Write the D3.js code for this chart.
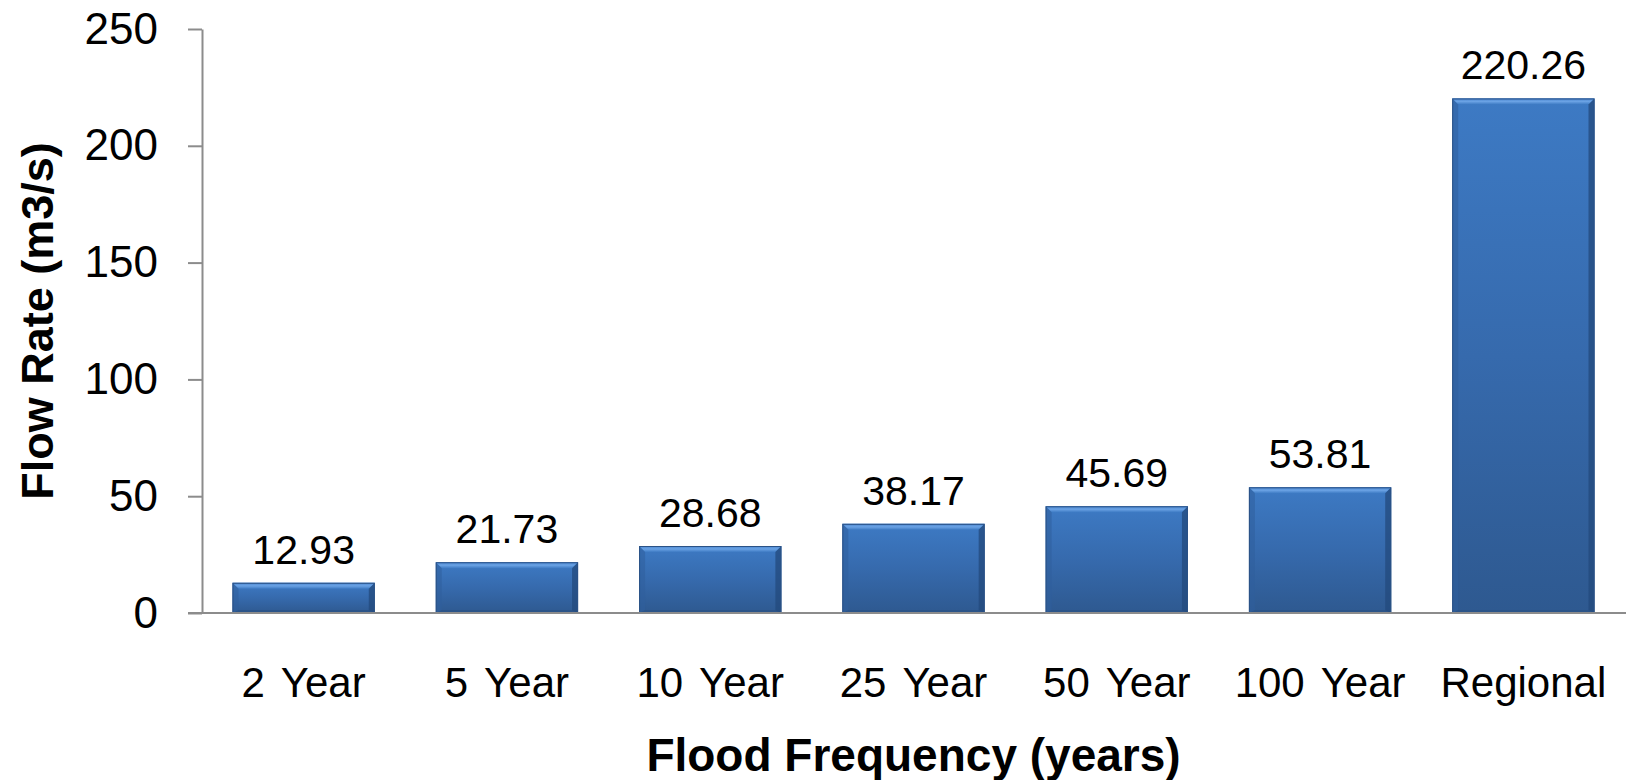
<!DOCTYPE html>
<html>
<head>
<meta charset="utf-8">
<script src="https://cdn.jsdelivr.net/npm/d3@7"></script>
<style>
  html, body { margin: 0; padding: 0; background: #fff; }
  svg { display: block; }
  text { font-family: "Liberation Sans", Arial, Helvetica, sans-serif; fill: #000; }
</style>
</head>
<body>
<svg id="chart" width="1627" height="780"></svg>
<script>
const categories = ["2 Year", "5 Year", "10 Year", "25 Year", "50 Year", "100 Year", "Regional"];
const values = [12.93, 21.73, 28.68, 38.17, 45.69, 53.81, 220.26];
const yTicks = [0, 50, 100, 150, 200, 250];
const xTitle = "Flood Frequency (years)";
const yTitle = "Flow Rate (m3/s)";

const W = 1627, H = 780;
const plot = { left: 202, right: 1625, top: 29, bottom: 613 };
const svg = d3.select("#chart");

const x = d3.scaleBand().domain(categories).range([plot.left, plot.right])
  .paddingInner(0.3).paddingOuter(0.15);
const y = d3.scaleLinear().domain([0, 250]).range([plot.bottom, plot.top]);

const defs = svg.append("defs");
const g1 = defs.append("linearGradient").attr("id", "barGrad")
  .attr("x1", 0).attr("y1", 0).attr("x2", 0).attr("y2", 1);
g1.append("stop").attr("offset", "0%").attr("stop-color", "#3d7ac4");
g1.append("stop").attr("offset", "50%").attr("stop-color", "#366aad");
g1.append("stop").attr("offset", "100%").attr("stop-color", "#2e5990");
const g2 = defs.append("linearGradient").attr("id", "topGrad")
  .attr("x1", 0).attr("y1", 0).attr("x2", 0).attr("y2", 1);
g2.append("stop").attr("offset", "0%").attr("stop-color", "#4a86d0");
g2.append("stop").attr("offset", "50%").attr("stop-color", "#6aa2e4");
g2.append("stop").attr("offset", "100%").attr("stop-color", "#3e7bc4");

const gridColor = "#8c8c8c";

// y axis
const yAxis = d3.axisLeft(y).tickValues(yTicks).tickSize(14).tickSizeOuter(0).tickPadding(30);
const ya = svg.append("g").attr("transform", `translate(${plot.left},0)`).call(yAxis);
ya.select(".domain").attr("stroke", gridColor).attr("stroke-width", 2);
ya.selectAll(".tick line").attr("stroke", gridColor).attr("stroke-width", 2);
ya.selectAll(".tick text").attr("font-size", 44).attr("fill", "#000")
  .style("font-family", '"Liberation Sans", Arial, Helvetica, sans-serif');

// bars
const bev = 6;
const bars = svg.append("g").selectAll("g.bar").data(values).join("g").attr("class", "bar");
bars.append("rect")
  .attr("x", (d, i) => x(categories[i]))
  .attr("y", d => y(d))
  .attr("width", x.bandwidth())
  .attr("height", d => y(0) - y(d))
  .attr("fill", "url(#barGrad)");
// top bevel
bars.append("polygon")
  .attr("points", (d, i) => {
    const x0 = x(categories[i]), x1 = x0 + x.bandwidth(), t = y(d);
    return [[x0, t], [x1, t], [x1 - bev, t + bev], [x0 + bev, t + bev]].join(" ");
  })
  .attr("fill", "url(#topGrad)");
// left bevel
bars.append("polygon")
  .attr("points", (d, i) => {
    const x0 = x(categories[i]), t = y(d), b = y(0);
    return [[x0, t], [x0 + bev, t + bev], [x0 + bev, b - 2], [x0, b]].join(" ");
  })
  .attr("fill", "#2f5f9c").attr("opacity", 0.55);
// right bevel
bars.append("polygon")
  .attr("points", (d, i) => {
    const x1 = x(categories[i]) + x.bandwidth(), t = y(d), b = y(0);
    return [[x1, t], [x1 - bev, t + bev], [x1 - bev, b - 2], [x1, b]].join(" ");
  })
  .attr("fill", "#234a7c").attr("opacity", 0.75);
// bottom bevel
bars.append("polygon")
  .attr("points", (d, i) => {
    const x0 = x(categories[i]), x1 = x0 + x.bandwidth(), b = y(0);
    return [[x0, b], [x1, b], [x1 - bev, b - 3], [x0 + bev, b - 3]].join(" ");
  })
  .attr("fill", "#2a5387").attr("opacity", 0.8);
bars.append("rect")
  .attr("x", (d, i) => x(categories[i]) + 0.5)
  .attr("y", d => y(d) + 0.5)
  .attr("width", x.bandwidth() - 1)
  .attr("height", d => y(0) - y(d) - 1)
  .attr("fill", "none").attr("stroke", "#2b5286").attr("stroke-width", 1);

// x baseline
svg.append("line")
  .attr("x1", plot.left - 14).attr("x2", plot.right + 1)
  .attr("y1", y(0)).attr("y2", y(0))
  .attr("stroke", gridColor).attr("stroke-width", 2);

// value labels
svg.append("g").selectAll("text").data(values).join("text")
  .attr("x", (d, i) => x(categories[i]) + x.bandwidth() / 2)
  .attr("y", d => y(d) - 19)
  .attr("text-anchor", "middle")
  .attr("font-size", 41)
  .text(d => d.toFixed(2));

// x category labels
svg.append("g").selectAll("text").data(categories).join("text")
  .attr("x", d => x(d) + x.bandwidth() / 2)
  .attr("y", 697)
  .attr("text-anchor", "middle")
  .attr("font-size", 42)
  .attr("word-spacing", 5)
  .text(d => d);

// axis titles
svg.append("text")
  .attr("x", (plot.left + plot.right) / 2)
  .attr("y", 771)
  .attr("text-anchor", "middle")
  .attr("font-size", 46).attr("font-weight", "bold")
  .text(xTitle);

svg.append("text")
  .attr("transform", `translate(53, ${(plot.top + plot.bottom) / 2}) rotate(-90)`)
  .attr("text-anchor", "middle")
  .attr("font-size", 45).attr("font-weight", "bold")
  .text(yTitle);
</script>
</body>
</html>
